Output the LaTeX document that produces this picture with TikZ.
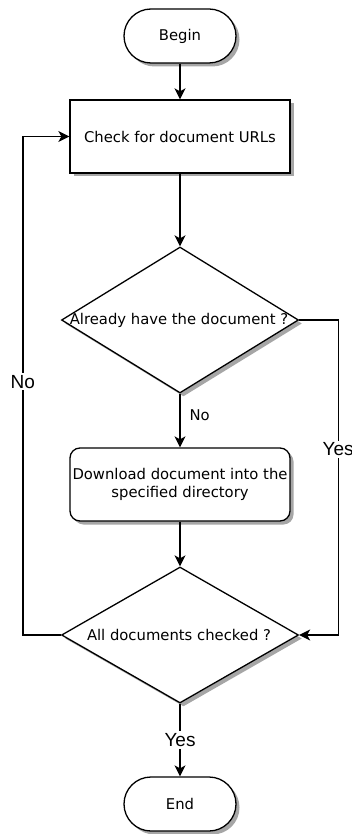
\documentclass[tikz,border=0pt]{standalone}
\usepackage{fontspec}
\setmainfont{DejaVu Sans}
\newfontfamily\lblfont{Liberation Sans}
\usetikzlibrary{shapes.geometric,arrows.meta,shadows}

\tikzset{
  shade3/.style={drop shadow={shadow xshift=3.5pt, shadow yshift=-3.5pt, fill=black!35, opacity=1}},
  base/.style={draw=black, line width=1.3pt, fill=white, shade3, font=\fontsize{14.8}{18.5}\selectfont, inner sep=0pt},
  terminal/.style={base, minimum width=112pt, minimum height=54pt, rounded corners=27pt},
  process/.style={base, minimum width=220pt, minimum height=73pt},
  procround/.style={process, rounded corners=10pt, align=center},
  decision/.style={base, diamond, minimum width=237pt, minimum height=140pt, aspect=1.65},
  nodetext/.style={inner sep=0pt, font=\fontsize{14.8}{18.5}\selectfont},
  flow/.style={draw=black, line width=1.3pt, -{Stealth[length=11pt, width=11pt, inset=3pt]}},
  branch/.style={font=\lblfont\fontsize{19}{19}\selectfont, fill=white, inner sep=2pt},
  smallbranch/.style={font=\fontsize{14.8}{14.8}\selectfont, inner sep=0pt, anchor=west},
}

\begin{document}
\begin{tikzpicture}[x=1pt, y=-1pt]
  \useasboundingbox (0,0) rectangle (352,834);

  % shapes
  \node[terminal] (begin) at (180,36) {Begin};
  \node[process] (check) at (180,136.5) {Check for document URLs};
  \node[decision, minimum height=146pt] (have) at (180,320) {};
  \node[nodetext] (havetext) at (179,320) {Already have the document ?};
  \node[procround] (download) at (180,484.5) {Download document into the\\specified directory};
  \node[decision, minimum height=136pt] (alldone) at (180,635) {};
  \node[nodetext] (alltext) at (179,635) {All documents checked ?};
  \node[terminal] (end) at (180,804) {End};

  % connectors
  \draw[flow] (begin) -- (check);
  \draw[flow] (check) -- (have);
  \draw[flow] (have.south) -- node[smallbranch, pos=0.4, xshift=9pt] {No} (download.north);
  \draw[flow] (download) -- (alldone.north);
  \draw[flow] (have.east) -- ++(39,0) coordinate (yesturn)
    |- node[branch, pos=0.205] {Yes} (alldone.east);
  \draw[flow] (alldone.west) -- ++(-38,0) coordinate (noturn)
    |- node[branch, pos=0.254] {No} (check.west);
  \draw[flow] (alldone.south) -- node[branch, pos=0.5] {Yes} (end.north);
\end{tikzpicture}
\end{document}
